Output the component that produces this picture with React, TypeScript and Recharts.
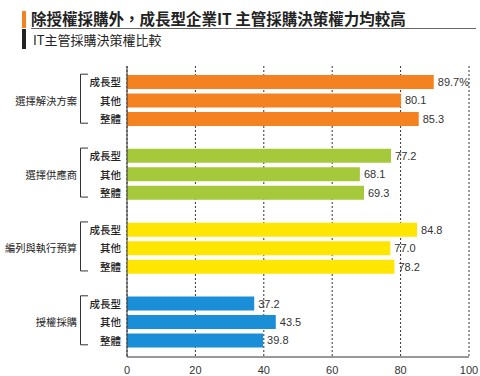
import { Bar, BarChart, CartesianGrid, Cell, LabelList, XAxis, YAxis } from "recharts";

const GRUPOS = ["選擇解決方案", "選擇供應商", "編列與執行預算", "授權採購"];
const TIPOS = ["成長型", "其他", "整體"];
const CORES = ["#f58220", "#a6c93b", "#ffe600", "#1a8fd8"];

const VALORES_SOLUCAO = [89.7, 80.1, 85.3];
const VALORES_FORNECEDOR = [77.2, 68.1, 69.3];
const VALORES_ORCAMENTO = [84.8, 77.0, 78.2];
const VALORES_COMPRA = [37.2, 43.5, 39.8];

const TICKS_X = [0, 20, 40, 60, 80, 100];

const FONTE_CJK = '"Noto Sans CJK TC", "Noto Sans", sans-serif';
const FONTE_NUM = '"Liberation Sans", Arial, sans-serif';

type Linha = {
  chave: string;
  tipo: string;
  grupo: number;
  indice: number;
  valor: number | null;
};

const todosValores = [VALORES_SOLUCAO, VALORES_FORNECEDOR, VALORES_ORCAMENTO, VALORES_COMPRA];

// linhas vazias entre os grupos servem de espaçamento
const dados: Linha[] = [];
todosValores.forEach((valores, g) => {
  if (g > 0) dados.push({ chave: `sep${g}`, tipo: "", grupo: g, indice: -1, valor: null });
  valores.forEach((v, i) =>
    dados.push({ chave: `${g}-${i}`, tipo: TIPOS[i], grupo: g, indice: i, valor: v }),
  );
});

function TickCategoria(props: any) {
  const { y, payload } = props;
  const linha = dados.find((d) => d.chave === payload.value);
  if (!linha || linha.indice < 0) return null;
  return (
    <g>
      <text
        x={121}
        y={y}
        dy={4}
        textAnchor="end"
        fontSize={10.5}
        fill="#222"
        fontFamily={FONTE_CJK}
        fontWeight={500}
      >
        {linha.tipo}
      </text>
      {linha.indice === 1 && (
        <>
          <path
            d={`M88 ${y - 26.5} H80.5 V${y + 22.5} H88`}
            fill="none"
            stroke="#333"
            strokeWidth={1}
          />
          <text
            x={77}
            y={y}
            dy={4}
            textAnchor="end"
            fontSize={10.3}
            fill="#222"
            fontFamily={FONTE_CJK}
          >
            {GRUPOS[linha.grupo]}
          </text>
        </>
      )}
    </g>
  );
}

export default function App() {
  return (
    <div
      style={{
        position: "absolute",
        left: 0,
        top: 0,
        width: 480,
        height: 376,
        background: "#fff",
        fontFamily: FONTE_CJK,
      }}
    >
      <div style={{ position: "absolute", left: 22, top: 11, width: 4, height: 17, background: "#f58220" }} />
      <div
        style={{
          position: "absolute",
          left: 31,
          top: 8,
          fontSize: 15.5,
          fontWeight: 700,
          color: "#222",
          lineHeight: "20px",
          whiteSpace: "nowrap",
        }}
      >
        除授權採購外，成長型企業IT 主管採購決策權力均較高
      </div>
      <div style={{ position: "absolute", left: 31, top: 28, width: 445, height: 1, background: "#666" }} />
      <div style={{ position: "absolute", left: 22, top: 29, width: 4, height: 20, background: "#222" }} />
      <div
        style={{
          position: "absolute",
          left: 33,
          top: 31,
          fontSize: 13,
          color: "#222",
          lineHeight: "18px",
          whiteSpace: "nowrap",
        }}
      >
        IT主管採購決策權比較
      </div>

      <div style={{ position: "absolute", left: 0, top: 0 }}>
        <BarChart
          width={480}
          height={376}
          data={dados}
          layout="vertical"
          margin={{ top: 66, right: 11, left: 0, bottom: 0 }}
        >
          <CartesianGrid horizontal={false} stroke="#333" strokeDasharray="2 2" />
          <XAxis
            type="number"
            domain={[0, 100]}
            ticks={TICKS_X}
            tickLine={false}
            axisLine={{ stroke: "#333" }}
            height={19}
            tick={{ fontSize: 11, fill: "#333", fontFamily: FONTE_NUM }}
            tickMargin={3}
          />
          <YAxis
            type="category"
            dataKey="chave"
            width={127}
            tickLine={false}
            axisLine={{ stroke: "#333" }}
            padding={{ top: 7, bottom: 7 }}
            interval={0}
            tick={<TickCategoria />}
          />
          <Bar dataKey="valor" barSize={14} isAnimationActive={false}>
            {dados.map((d) => (
              <Cell key={d.chave} fill={CORES[d.grupo]} />
            ))}
            <LabelList
              dataKey="valor"
              position="right"
              offset={4}
              fontSize={11}
              fill="#333"
              fontFamily={FONTE_NUM}
              formatter={(v: any) =>
                v == null ? "" : v === VALORES_SOLUCAO[0] ? `${v.toFixed(1)}%` : v.toFixed(1)
              }
            />
          </Bar>
        </BarChart>
      </div>
    </div>
  );
}
